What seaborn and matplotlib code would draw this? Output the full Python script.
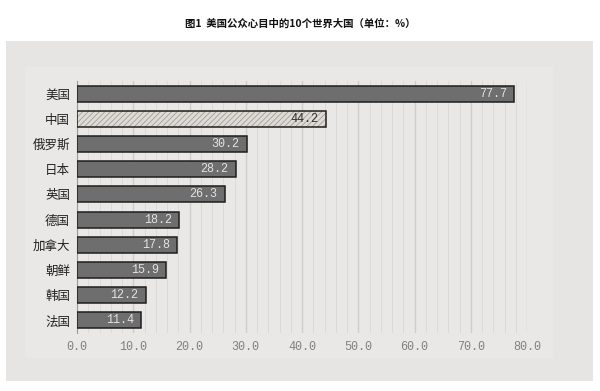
import matplotlib
matplotlib.use("Agg")
import matplotlib.pyplot as plt
import seaborn as sns
import pandas as pd
from matplotlib.patches import Rectangle

countries = ["美国", "中国", "俄罗斯", "日本", "英国", "德国", "加拿大", "朝鲜", "韩国", "法国"]
values = [77.7, 44.2, 30.2, 28.2, 26.3, 18.2, 17.8, 15.9, 12.2, 11.4]
xticks = [0, 10, 20, 30, 40, 50, 60, 70, 80]
title = "图1  美国公众心目中的10个世界大国（单位：%）"

sns.set_theme(style="white")
plt.rcParams['font.family'] = ['Noto Sans CJK SC', 'DejaVu Sans']
plt.rcParams['hatch.linewidth'] = 0.6

df = pd.DataFrame({"country": countries, "value": values})

fig = plt.figure(figsize=(6, 3.91), dpi=100)
fig.patch.set_facecolor("white")
W, H = 600, 391

bg = fig.add_axes([0, 0, 1, 1], zorder=-5)
bg.set_xlim(0, W)
bg.set_ylim(H, 0)
bg.axis("off")
bg.add_patch(Rectangle((6, 41), 587, 340, facecolor="#e6e5e3", edgecolor="none"))
bg.add_patch(Rectangle((25, 67), 528, 291, facecolor="#e9e8e6", edgecolor="none"))

ax = fig.add_axes([77 / W, 1 - 333 / H, 450 / W, 252 / H], zorder=1)
ax.set_facecolor("none")

sns.barplot(data=df, x="value", y="country", color="#6e6e6e", width=0.64,
            edgecolor="#1e1e1e", linewidth=1.1, saturation=1, ax=ax, zorder=3)

for i, p in enumerate(list(ax.patches)):
    if countries[i] == "中国":
        p.set_facecolor("#dedad6")
        p.set_hatch("//////")
        p.set_edgecolor("#a59d97")
        p.set_linewidth(0)
        ax.add_patch(Rectangle((p.get_x(), p.get_y()), p.get_width(), p.get_height(),
                               facecolor="none", edgecolor="#1e1e1e", linewidth=1.1,
                               zorder=4))

ax.set_xlim(0, 80)
ax.set_ylim(9.5, -0.5)
ax.set_xticks(xticks)
ax.set_xticks([v for v in range(0, 81, 2)], minor=True)
ax.set_xticklabels([f"{v:.1f}" for v in xticks], family="Liberation Mono",
                   fontsize=8.5, color="#808080")
ax.tick_params(axis="x", which="both", length=0, pad=6)
ax.tick_params(axis="y", length=0, pad=5)
for lab in ax.get_yticklabels():
    lab.set_fontsize(9)
    lab.set_color("#222222")
ax.grid(axis="x", which="major", color="#cfcdcb", linewidth=1.0, zorder=0)
ax.grid(axis="x", which="minor", color="#dcdad8", linewidth=0.7, zorder=0)
ax.set_axisbelow(True)
for s in ["top", "right", "bottom"]:
    ax.spines[s].set_visible(False)
ax.spines["left"].set_color("#9a9a9a")
ax.spines["left"].set_linewidth(0.8)
ax.set_xlabel("")
ax.set_ylabel("")

for i, (c, v) in enumerate(zip(countries, values)):
    col = "#333333" if c == "中国" else "#e2e2e2"
    ax.text(v - 1.3, i, f"{v:.1f}", ha="right", va="center", fontsize=8.5,
            family="Liberation Mono", color=col, zorder=5)

fig.text(0.5, 1 - 24 / H, title, ha="center", va="center", fontsize=7.5,
         fontweight="bold", color="#111111")

fig.savefig("out.png", dpi=100, facecolor="white")
